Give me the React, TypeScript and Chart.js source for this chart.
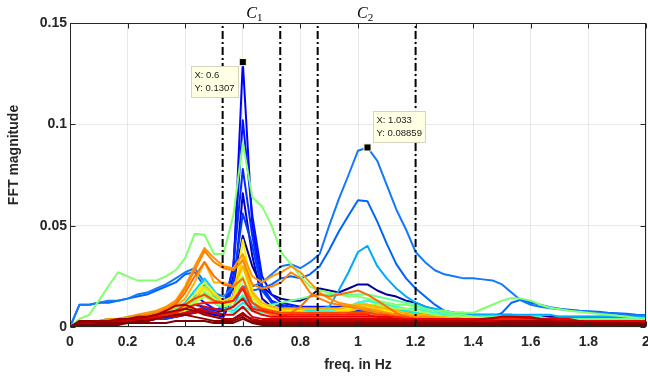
import React, { useEffect, useRef } from "react";
import { Chart, registerables } from "chart.js";
Chart.register(...registerables);

// frequency bins (Hz)
const freqHz = [
  0, 0.033, 0.067, 0.1, 0.133, 0.167, 0.2, 0.233, 0.267, 0.3,
  0.333, 0.367, 0.4, 0.433, 0.467, 0.5, 0.533, 0.567, 0.6, 0.633,
  0.667, 0.7, 0.733, 0.767, 0.8, 0.833, 0.867, 0.9, 0.933, 0.967,
  1.0, 1.033, 1.067, 1.1, 1.133, 1.167, 1.2, 1.233, 1.267, 1.3,
  1.333, 1.367, 1.4, 1.433, 1.467, 1.5, 1.533, 1.567, 1.6, 1.633,
  1.667, 1.7, 1.733, 1.767, 1.8, 1.833, 1.867, 1.9, 1.933, 1.967, 2.0,
];

const xTickValues = [0, 0.2, 0.4, 0.6, 0.8, 1, 1.2, 1.4, 1.6, 1.8, 2];
const xTickLabels = ["0", "0.2", "0.4", "0.6", "0.8", "1", "1.2", "1.4", "1.6", "1.8", "2"];
const yTickValues = [0, 0.05, 0.1, 0.15];
const yTickLabels = ["0", "0.05", "0.1", "0.15"];

const clusterBounds = [0.53, 0.73, 0.86, 1.2];
const clusterLabelX = [0.64, 1.025];
const clusterLabelSub = ["1", "2"];

const tipX = [0.6, 1.033];
const tipY = [0.1307, 0.08859];
const tipXText = ["0.6", "1.033"];
const tipYText = ["0.1307", "0.08859"];

const run01 = [
  0, .002, .002, .003, .003, .003, .004, .004, .005, .005,
  .006, .006, .007, .008, .008, .007, .008, .02, .045, .03,
  .02, .016, .014, .013, .013, .015, .019, .018, .017, .019,
  .021, .021, .018, .016, .015, .013, .012, .01, .008, .007,
  .006, .006, .006, .006, .006, .006, .006, .005, .005, .005,
  .005, .005, .005, .005, .005, .005, .005, .005, .005, .004, .004,
];
const run02 = [
  0, .001, .001, .002, .002, .002, .003, .003, .003, .004,
  .004, .005, .006, .007, .008, .006, .005, .015, .066, .035,
  .014, .01, .009, .009, .008, .008, .008, .009, .009, .01,
  .011, .011, .01, .009, .008, .007, .006, .006, .005, .005,
  .005, .004, .004, .004, .004, .004, .004, .004, .004, .004,
  .004, .004, .004, .004, .004, .004, .003, .003, .003, .003, .003,
];
const run03 = [
  0, .002, .002, .003, .003, .003, .004, .004, .004, .005,
  .005, .006, .007, .008, .007, .006, .006, .025, .1307, .05,
  .02, .012, .01, .009, .009, .009, .009, .009, .009, .009,
  .009, .009, .008, .008, .007, .007, .006, .006, .005, .005,
  .005, .005, .004, .004, .004, .004, .004, .004, .004, .004,
  .004, .004, .004, .004, .004, .003, .003, .003, .003, .003, .003,
];
const run04 = [
  0, .002, .002, .002, .003, .003, .003, .004, .004, .004,
  .005, .006, .009, .016, .012, .009, .008, .03, .102, .055,
  .025, .016, .012, .011, .01, .01, .01, .01, .01, .01,
  .01, .01, .009, .008, .008, .007, .007, .006, .006, .005,
  .005, .005, .005, .005, .005, .004, .004, .004, .004, .004,
  .004, .004, .004, .004, .004, .004, .004, .004, .003, .003, .003,
];
const run05 = [
  0, .001, .002, .002, .002, .003, .003, .003, .004, .004,
  .005, .006, .008, .011, .01, .008, .01, .03, .078, .045,
  .02, .013, .011, .01, .009, .009, .009, .009, .008, .008,
  .008, .008, .008, .007, .007, .006, .006, .005, .005, .005,
  .005, .004, .004, .004, .004, .004, .004, .004, .004, .004,
  .004, .004, .003, .003, .003, .003, .003, .003, .003, .003, .003,
];
const run06 = [
  0, .001, .001, .002, .002, .002, .003, .003, .003, .004,
  .004, .005, .006, .008, .009, .007, .006, .022, .056, .04,
  .018, .012, .01, .009, .008, .008, .008, .008, .008, .007,
  .007, .007, .007, .006, .006, .006, .005, .005, .005, .005,
  .004, .004, .004, .004, .004, .004, .004, .004, .004, .004,
  .003, .003, .003, .003, .003, .003, .003, .003, .003, .003, .003,
];
const run07 = [
  0, .011, .011, .012, .012, .013, .014, .015, .016, .018,
  .02, .022, .026, .027, .02, .016, .013, .015, .02, .018,
  .019, .021, .024, .025, .024, .026, .03, .038, .047, .055,
  .0625, .062, .052, .041, .031, .024, .019, .015, .011, .008,
  .007, .006, .006, .005, .005, .007, .012, .0135, .012, .011,
  .0098, .009, .0085, .008, .0078, .0075, .007, .0068, .0065, .006, .0058,
];
const run08 = [
  0, .011, .011, .012, .013, .013, .014, .016, .017, .019,
  .021, .024, .027, .029, .022, .017, .015, .02, .03, .02,
  .022, .026, .03, .031, .029, .032, .036, .05, .063, .075,
  .087, .08859, .082, .07, .058, .048, .037, .032, .028, .026,
  .025, .024, .024, .0235, .023, .021, .017, .013, .011, .01,
  .0093, .0088, .0083, .008, .0075, .007, .0068, .0065, .006, .0058, .0055,
];
const run09 = [
  0, .002, .003, .003, .004, .004, .005, .005, .006, .007,
  .008, .009, .011, .015, .017, .012, .009, .01, .02, .012,
  .009, .008, .008, .008, .008, .008, .009, .01, .018, .027,
  .037, .04, .03, .024, .019, .015, .012, .01, .009, .008,
  .007, .007, .006, .006, .006, .006, .006, .006, .006, .006,
  .006, .005, .005, .005, .005, .005, .005, .005, .005, .005, .005,
];
const run10 = [
  0, .002, .002, .003, .003, .004, .004, .005, .005, .006,
  .007, .009, .012, .018, .024, .018, .012, .01, .015, .01,
  .009, .009, .009, .009, .009, .009, .009, .009, .009, .01,
  .012, .013, .012, .01, .009, .008, .007, .007, .006, .006,
  .006, .005, .005, .005, .005, .005, .005, .005, .005, .004,
  .004, .004, .004, .004, .004, .004, .004, .004, .004, .004, .004,
];
const run11 = [
  0, .001, .002, .002, .003, .003, .004, .004, .005, .006,
  .007, .008, .011, .016, .022, .015, .011, .008, .012, .009,
  .008, .008, .008, .008, .008, .008, .008, .008, .008, .009,
  .01, .011, .01, .009, .008, .008, .007, .007, .006, .006,
  .006, .005, .005, .005, .005, .005, .004, .004, .004, .004,
  .004, .004, .004, .004, .004, .004, .003, .003, .003, .003, .003,
];
const run12 = [
  0, .001, .002, .002, .003, .003, .003, .004, .004, .005,
  .006, .007, .009, .012, .016, .012, .009, .007, .01, .008,
  .007, .007, .007, .007, .007, .007, .008, .008, .009, .01,
  .012, .013, .012, .011, .01, .009, .009, .008, .007, .006,
  .006, .005, .005, .005, .005, .005, .005, .005, .005, .005,
  .004, .004, .004, .004, .004, .004, .004, .004, .004, .004, .004,
];
const run13 = [
  0, .004, .006, .013, .02, .027, .025, .023, .023, .023,
  .025, .028, .034, .046, .0455, .036, .036, .055, .091, .064,
  .0595, .05, .037, .031, .025, .02, .018, .017, .016, .015,
  .015, .014, .013, .012, .011, .011, .01, .009, .008, .008,
  .007, .007, .007, .009, .011, .013, .0143, .014, .013, .011,
  .0095, .0088, .008, .0075, .007, .0065, .006, .0055, .005, .0045, .004,
];
const run14 = [
  0, .002, .003, .003, .004, .004, .005, .005, .006, .007,
  .008, .009, .011, .013, .017, .014, .012, .01, .016, .012,
  .01, .011, .012, .013, .014, .015, .016, .016, .016, .016,
  .016, .016, .015, .014, .013, .012, .011, .009, .008, .007,
  .006, .006, .005, .005, .005, .005, .005, .005, .004, .004,
  .004, .004, .004, .004, .004, .004, .004, .004, .004, .004, .004,
];
const run15 = [
  0, .001, .002, .002, .003, .003, .003, .004, .004, .005,
  .006, .007, .009, .012, .015, .012, .01, .012, .025, .014,
  .01, .009, .009, .009, .009, .009, .009, .009, .009, .01,
  .011, .011, .011, .01, .009, .009, .008, .007, .006, .005,
  .005, .005, .005, .004, .004, .004, .004, .004, .004, .004,
  .004, .004, .003, .003, .003, .003, .003, .003, .003, .003, .003,
];
const run16 = [
  0, .001, .002, .002, .002, .003, .003, .003, .004, .004,
  .005, .006, .008, .011, .019, .014, .011, .012, .03, .015,
  .01, .009, .008, .008, .007, .007, .007, .007, .007, .008,
  .009, .009, .008, .008, .007, .006, .006, .005, .005, .005,
  .004, .004, .004, .004, .004, .004, .004, .004, .004, .004,
  .003, .003, .003, .003, .003, .003, .003, .003, .003, .003, .003,
];
const run17 = [
  0, .002, .002, .003, .003, .003, .004, .004, .005, .005,
  .006, .008, .011, .016, .022, .017, .012, .014, .043, .018,
  .011, .009, .008, .008, .008, .007, .007, .007, .008, .009,
  .01, .011, .01, .008, .007, .006, .006, .005, .005, .004,
  .004, .004, .004, .004, .004, .004, .004, .004, .004, .003,
  .003, .003, .003, .003, .003, .003, .003, .003, .003, .003, .003,
];
const run18 = [
  0, .002, .002, .002, .003, .003, .003, .004, .004, .005,
  .006, .007, .01, .014, .02, .016, .013, .015, .035, .016,
  .01, .008, .008, .007, .007, .007, .007, .007, .007, .008,
  .009, .01, .009, .007, .006, .006, .005, .005, .005, .004,
  .004, .004, .004, .004, .004, .003, .003, .003, .003, .003,
  .003, .003, .003, .003, .003, .003, .003, .003, .003, .003, .003,
];
const run19 = [
  0, .002, .002, .003, .003, .004, .004, .005, .006, .007,
  .008, .01, .014, .022, .032, .022, .022, .02, .03, .017,
  .012, .01, .009, .009, .009, .009, .009, .009, .009, .01,
  .011, .011, .01, .009, .008, .007, .006, .006, .005, .005,
  .004, .004, .004, .004, .004, .004, .004, .004, .004, .004,
  .004, .003, .003, .003, .003, .003, .003, .003, .003, .003, .003,
];
const run20 = [
  0, .002, .003, .003, .004, .004, .005, .006, .007, .008,
  .01, .013, .02, .03, .039, .034, .03, .029, .036, .025,
  .022, .025, .027, .03, .027, .022, .017, .014, .012, .011,
  .01, .009, .008, .007, .006, .006, .005, .005, .005, .004,
  .004, .004, .004, .004, .004, .004, .004, .004, .004, .004,
  .003, .003, .003, .003, .003, .003, .003, .003, .003, .003, .003,
];
const run21 = [
  0, .002, .002, .003, .003, .004, .004, .005, .006, .007,
  .009, .012, .019, .028, .0375, .032, .029, .028, .033, .021,
  .019, .02, .022, .027, .024, .017, .014, .012, .011, .01,
  .009, .008, .007, .006, .006, .005, .005, .005, .004, .004,
  .004, .004, .004, .004, .004, .004, .003, .003, .003, .003,
  .003, .003, .003, .003, .003, .003, .003, .003, .003, .003, .003,
];
const run22 = [
  0, .002, .002, .003, .003, .003, .004, .005, .005, .006,
  .008, .011, .017, .025, .032, .025, .021, .02, .024, .012,
  .008, .006, .005, .007, .01, .015, .016, .015, .016, .017,
  .018, .016, .013, .01, .007, .005, .004, .004, .004, .004,
  .003, .003, .003, .003, .003, .003, .003, .003, .003, .003,
  .003, .003, .003, .003, .003, .003, .003, .002, .002, .002, .002,
];
const run23 = [
  0, .001, .002, .002, .003, .003, .003, .004, .004, .005,
  .006, .008, .011, .014, .016, .013, .012, .013, .02, .012,
  .009, .008, .007, .007, .007, .007, .007, .007, .007, .007,
  .007, .007, .006, .006, .005, .005, .004, .004, .004, .004,
  .003, .003, .003, .003, .003, .003, .003, .003, .003, .003,
  .003, .003, .003, .003, .002, .002, .002, .002, .002, .002, .002,
];
const run24 = [
  0, .001, .002, .002, .002, .003, .003, .004, .004, .005,
  .006, .007, .009, .011, .012, .012, .012, .013, .019, .009,
  .008, .007, .006, .006, .006, .006, .006, .006, .006, .006,
  .006, .006, .005, .005, .005, .004, .004, .004, .004, .004,
  .004, .004, .004, .004, .004, .004, .004, .004, .004, .004,
  .003, .003, .003, .003, .003, .003, .003, .003, .003, .003, .003,
];
const run25 = [
  0, .002, .002, .002, .003, .003, .003, .004, .004, .005,
  .005, .006, .007, .008, .01, .009, .008, .01, .014, .008,
  .006, .005, .005, .005, .005, .005, .005, .005, .005, .005,
  .005, .005, .005, .005, .004, .004, .004, .004, .004, .004,
  .004, .004, .004, .004, .004, .005, .005, .005, .005, .004,
  .004, .004, .004, .003, .003, .003, .003, .003, .003, .003, .003,
];
const run26 = [
  0, .002, .002, .002, .002, .003, .003, .003, .004, .004,
  .005, .005, .006, .007, .008, .007, .006, .006, .01, .005,
  .004, .004, .004, .004, .004, .004, .004, .004, .004, .004,
  .004, .004, .004, .004, .004, .003, .003, .003, .003, .003,
  .003, .003, .003, .003, .003, .003, .003, .003, .003, .003,
  .003, .003, .003, .003, .002, .002, .002, .002, .002, .002, .002,
];
const run27 = [
  0, .002, .002, .002, .003, .003, .004, .004, .005, .006,
  .008, .0105, .011, .009, .007, .005, .004, .004, .006, .004,
  .003, .003, .003, .003, .003, .003, .003, .003, .003, .003,
  .003, .003, .003, .003, .003, .003, .003, .003, .003, .003,
  .003, .003, .003, .004, .0045, .005, .005, .0048, .0045, .004,
  .0035, .003, .003, .003, .0025, .0025, .0025, .0025, .002, .002, .002,
];
const run28 = [
  0, .002, .003, .003, .003, .004, .004, .005, .005, .006,
  .007, .008, .009, .008, .006, .005, .004, .004, .007, .003,
  .003, .002, .002, .002, .002, .002, .002, .002, .002, .002,
  .002, .002, .002, .002, .002, .002, .002, .002, .002, .002,
  .002, .002, .002, .002, .002, .003, .003, .003, .003, .003,
  .003, .002, .002, .002, .002, .002, .002, .002, .002, .002, .002,
];
const run29 = [
  0, .003, .003, .002, .002, .002, .002, .003, .003, .004,
  .005, .006, .006, .005, .004, .003, .003, .003, .005, .002,
  .002, .002, .002, .002, .002, .002, .002, .002, .002, .002,
  .002, .002, .002, .002, .002, .002, .002, .002, .002, .002,
  .002, .002, .002, .002, .002, .002, .002, .002, .002, .002,
  .002, .002, .002, .002, .002, .002, .002, .002, .002, .002, .002,
];
const run30 = [
  0, .001, .001, .001, .001, .001, .002, .002, .002, .002,
  .002, .003, .003, .003, .003, .002, .002, .002, .004, .002,
  .001, .001, .001, .001, .001, .001, .001, .001, .001, .001,
  .001, .001, .001, .001, .001, .001, .001, .001, .001, .001,
  .001, .001, .001, .001, .001, .001, .001, .001, .001, .001,
  .001, .001, .001, .001, .001, .001, .001, .001, .001, .001, .001,
];

const runs = [
  run01, run02, run03, run04, run05, run06, run07, run08, run09, run10,
  run11, run12, run13, run14, run15, run16, run17, run18, run19, run20,
  run21, run22, run23, run24, run25, run26, run27, run28, run29, run30,
];

const runColors = [
  "rgb(0,0,150)", "rgb(0,0,200)", "rgb(0,0,255)", "rgb(0,20,255)", "rgb(0,40,255)",
  "rgb(0,60,255)", "rgb(0,100,255)", "rgb(20,120,255)", "rgb(0,170,255)", "rgb(0,210,255)",
  "rgb(0,240,240)", "rgb(60,255,200)", "rgb(130,255,110)", "rgb(100,255,150)", "rgb(170,255,85)",
  "rgb(210,255,45)", "rgb(255,240,0)", "rgb(255,210,0)", "rgb(255,180,0)", "rgb(255,150,0)",
  "rgb(255,130,0)", "rgb(255,110,0)", "rgb(255,70,0)", "rgb(255,30,0)", "rgb(235,0,0)",
  "rgb(210,0,0)", "rgb(185,0,0)", "rgb(160,0,0)", "rgb(140,0,0)", "rgb(128,0,0)",
];

const FONT = "'Liberation Sans', Arial, Helvetica, sans-serif";
const AXIS_COLOR = "#262626";

const decorPlugin = {
  id: "decor",
  afterDraw(chart: any) {
    const { ctx, chartArea: a, scales } = chart;
    const xs = scales.x;
    const ys = scales.y;
    ctx.save();
    // axes box
    ctx.strokeStyle = AXIS_COLOR;
    ctx.lineWidth = 1;
    const L = Math.round(a.left) + 0.5;
    const T = Math.round(a.top) + 0.5;
    const R = Math.round(a.right) - 0.5;
    const B = Math.round(a.bottom) - 0.5;
    ctx.strokeRect(L, T, R - L, B - T);
    // inward ticks
    ctx.beginPath();
    xTickValues.forEach((v) => {
      const p = Math.round(xs.getPixelForValue(v)) + 0.5;
      ctx.moveTo(p, B); ctx.lineTo(p, B - 5);
      ctx.moveTo(p, T); ctx.lineTo(p, T + 5);
    });
    yTickValues.forEach((v) => {
      const p = Math.round(ys.getPixelForValue(v)) + 0.5;
      ctx.moveTo(L, p); ctx.lineTo(L + 5, p);
      ctx.moveTo(R, p); ctx.lineTo(R - 5, p);
    });
    ctx.stroke();

    // y title
    ctx.save();
    ctx.translate(14, 155);
    ctx.rotate(-Math.PI / 2);
    ctx.font = `bold 14px ${FONT}`;
    ctx.fillStyle = AXIS_COLOR;
    ctx.textAlign = "center";
    ctx.textBaseline = "middle";
    ctx.fillText("FFT magnitude", 0, 0);
    ctx.restore();

    // cluster labels
    clusterLabelX.forEach((x, i) => {
      const cx = xs.getPixelForValue(x);
      ctx.font = "italic 16px 'Liberation Serif', 'DejaVu Serif', serif";
      const wC = ctx.measureText("C").width;
      ctx.font = "11px 'Liberation Serif', 'DejaVu Serif', serif";
      const wS = ctx.measureText(clusterLabelSub[i]).width;
      const x0 = cx - (wC + wS) / 2;
      ctx.fillStyle = "#000";
      ctx.textAlign = "left";
      ctx.textBaseline = "alphabetic";
      ctx.font = "italic 16px 'Liberation Serif', 'DejaVu Serif', serif";
      ctx.fillText("C", x0, 18);
      ctx.font = "11px 'Liberation Serif', 'DejaVu Serif', serif";
      ctx.fillText(clusterLabelSub[i], x0 + wC, 21);
    });

    // data tips
    tipX.forEach((x, i) => {
      const px = xs.getPixelForValue(x);
      const py = ys.getPixelForValue(tipY[i]);
      const l1 = "X: " + tipXText[i];
      const l2 = "Y: " + tipYText[i];
      ctx.font = `9.5px ${FONT}`;
      const w = Math.round(Math.max(ctx.measureText(l1).width, ctx.measureText(l2).width) + 7);
      const h = 31;
      const bx = Math.round(i === 0 ? px - 5 - w : px + 5) + 0.5;
      const by = Math.round(i === 0 ? py + 4 : py - 36) + 0.5;
      ctx.fillStyle = "#ffffe3";
      ctx.fillRect(bx, by, w, h);
      ctx.strokeStyle = "#d4d4c0";
      ctx.lineWidth = 1;
      ctx.strokeRect(bx, by, w, h);
      ctx.fillStyle = "#222";
      ctx.textAlign = "left";
      ctx.textBaseline = "middle";
      ctx.fillText(l1, bx + 3, by + 9);
      ctx.fillText(l2, bx + 3, by + 22);
    });
    ctx.restore();
  },
};

export default function App() {
  const canvasRef = useRef<HTMLCanvasElement | null>(null);

  useEffect(() => {
    const canvas = canvasRef.current;
    if (!canvas) return;
    const datasets: any[] = [];
    clusterBounds.forEach((b) => {
      datasets.push({
        data: [
          { x: b, y: yTickValues[0] },
          { x: b, y: yTickValues[yTickValues.length - 1] },
        ],
        borderColor: "#000",
        borderWidth: 2,
        borderDash: [8, 3, 2, 3],
        pointRadius: 0,
        order: 1,
      });
    });
    datasets.push({
      data: tipX.map((x, i) => ({ x, y: tipY[i] })),
      showLine: false,
      pointStyle: "rect",
      pointRadius: 5,
      backgroundColor: "#000",
      borderColor: "#ffffd0",
      borderWidth: 1,
      order: 0,
    });
    runs.forEach((r, i) => {
      datasets.push({
        data: freqHz.map((f, k) => ({ x: f, y: r[k] })),
        borderColor: runColors[i],
        borderWidth: 2,
        pointRadius: 0,
        order: 100 - i,
      });
    });

    const tickFont = { family: FONT, size: 14, weight: "bold" as const };
    const chart = new Chart(canvas, {
      type: "line",
      data: { datasets },
      options: {
        responsive: false,
        animation: false,
        devicePixelRatio: 1,
        layout: { autoPadding: false, padding: { top: 23, right: 2, left: 0, bottom: 0 } },
        plugins: { legend: { display: false }, tooltip: { enabled: false } },
        elements: { line: { tension: 0, borderJoinStyle: "round" }, point: { radius: 0 } },
        scales: {
          x: {
            type: "linear",
            min: 0,
            max: 2,
            afterBuildTicks: (s: any) => {
              s.ticks = xTickValues.map((v) => ({ value: v }));
            },
            afterFit: (s: any) => {
              s.height = 54;
              s.paddingLeft = 0;
              s.paddingRight = 0;
            },
            grid: { color: "rgba(38,38,38,0.1)", drawTicks: false },
            border: { display: false },
            ticks: {
              autoSkip: false,
              maxRotation: 0,
              padding: 7,
              color: AXIS_COLOR,
              font: tickFont,
              callback: (_v: any, i: number) => xTickLabels[i],
            },
            title: {
              display: true,
              text: "freq. in Hz",
              color: AXIS_COLOR,
              font: tickFont,
              padding: { top: 0, bottom: 7 },
            },
          },
          y: {
            type: "linear",
            min: 0,
            max: 0.15,
            afterBuildTicks: (s: any) => {
              s.ticks = yTickValues.map((v) => ({ value: v }));
            },
            afterFit: (s: any) => {
              s.width = 70;
              s.paddingTop = 0;
              s.paddingBottom = 0;
            },
            grid: { color: "rgba(38,38,38,0.1)", drawTicks: false },
            border: { display: false },
            ticks: {
              padding: 3,
              color: AXIS_COLOR,
              font: tickFont,
              callback: (_v: any, i: number) => yTickLabels[i],
            },
            title: { display: false },
          },
        },
      },
      plugins: [decorPlugin],
    } as any);
    return () => chart.destroy();
  }, []);

  return (
    <div style={{ position: "absolute", left: 0, top: 0, width: 648, height: 381, background: "#fff" }}>
      <canvas ref={canvasRef} width={648} height={381} />
    </div>
  );
}
